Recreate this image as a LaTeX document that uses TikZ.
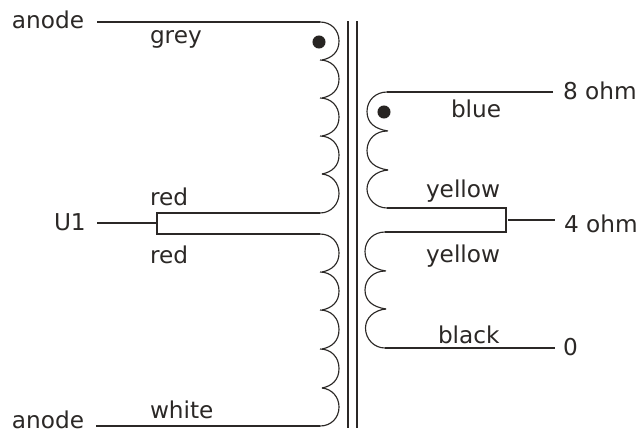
\documentclass[tikz,border=0pt]{standalone}
\usepackage{fontspec}
\setmainfont{DejaVu Sans}
\definecolor{ink}{HTML}{2B2826}
\usetikzlibrary{calc}
\tikzset{
  wire/.style={draw=ink,line width=0.85pt,line cap=butt},
  lbl/.style={anchor=base west,inner sep=0pt,outer sep=0pt,text=ink,font=\fontsize{17.4pt}{19pt}\selectfont},
  phasedot/.style={circle,fill=ink!90!black,draw=none,minimum size=9.8pt,inner sep=0pt}
}
\newcommand{\bumpR}[3]{% x, y1, y2 : bulge to the right
  \draw[wire] (#1,#2) .. controls ($(#1,#2)+(11,0)$) and ($(#1+19,#2+8)$) .. ($(#1+19,#2/2+#3/2)$)
     .. controls ($(#1+19,#3-8)$) and ($(#1+12,#3-2)$) .. ($(#1+2,#3)$);}
\newcommand{\bumpL}[3]{% x, y1, y2 : bulge to the left
  \draw[wire] (#1,#2) .. controls ($(#1-11,#2)$) and ($(#1-20,#2+8)$) .. ($(#1-20,#2/2+#3/2)$)
     .. controls ($(#1-20,#3-8)$) and ($(#1-12,#3-2)$) .. ($(#1+1,#3)$);}
\begin{document}
\begin{tikzpicture}[x=0.75pt,y=-0.75pt]
\useasboundingbox (0,0) rectangle (638,432);
\fill[white] (0,0) rectangle (638,432);
% core
\coordinate (c1t) at (348,21); \coordinate (c1b) at (348,428);
\coordinate (c2t) at (357,21); \coordinate (c2b) at (357,428);
\draw[wire] (c1t) -- (c1b);
\draw[wire] (c2t) -- (c2b);
% labels
\node[lbl] (an1) at (12,28) {anode};
\node[lbl] (grey) at (150,43) {grey};
\node[lbl] (red1) at (150,205) {red};
\node[lbl] (u1) at (54,230) {U1};
\node[lbl] (red2) at (150,263) {red};
\node[lbl] (white) at (150,418) {white};
\node[lbl] (an2) at (12,428) {anode};
\node[lbl] (eight) at (563,99) {8 ohm};
\node[lbl] (blue) at (451,117) {blue};
\node[lbl] (yel1) at (426,197) {yellow};
\node[lbl] (four) at (564,232) {4 ohm};
\node[lbl] (yel2) at (426,262) {yellow};
\node[lbl] (black) at (438,343) {black};
\node[lbl] (zero) at (563,355) {0};
% primary
\coordinate (pa) at (97,22); \coordinate (pb) at (320,22);
\coordinate (pc) at (320,213); \coordinate (pd) at (157,213);
\coordinate (pe) at (157,234); \coordinate (pf) at (320,234);
\coordinate (pg) at (320,426); \coordinate (ph) at (96,426);
\coordinate (pu) at (97,223); \coordinate (pv) at (157,223);
\draw[wire] (pa) -- (pb);
\draw[wire] (pc) -- (pd) -- (pe) -- (pf);
\draw[wire] (pg) -- (ph);
\draw[wire] (pu) -- (pv);
\bumpR{320}{22}{60}\bumpR{320}{60}{98}\bumpR{320}{98}{136}\bumpR{320}{136}{174}
\draw[wire] (322,174) .. controls (332,175) and (339,183) .. (339,193.5) .. controls (339,204) and (331,213) .. (pc);
\bumpR{320}{234}{272}\bumpR{320}{272}{310}\bumpR{320}{310}{349}\bumpR{320}{349}{388}
\draw[wire] (322,388) .. controls (332,389) and (339,397) .. (339,407) .. controls (339,418) and (331,426) .. (pg);
\node[phasedot] (dot1) at (319,42) {};
% secondary
\coordinate (sa) at (553,92); \coordinate (sb) at (387,92);
\coordinate (sc) at (387,208); \coordinate (sd) at (506,208);
\coordinate (se) at (506,232); \coordinate (sf) at (385,232);
\coordinate (sg) at (385,348); \coordinate (sh) at (555,348);
\coordinate (s4a) at (508,220); \coordinate (s4b) at (555,220);
\draw[wire] (sa) -- (sb);
\draw[wire] (sc) -- (sd) -- (se) -- (sf);
\draw[wire] (sg) -- (sh);
\draw[wire] (s4a) -- (s4b);
\bumpL{387}{92}{131}\bumpL{387}{131}{170}
\draw[wire] (388,170) .. controls (376,171) and (367,179) .. (367,189) .. controls (367,199) and (376,208) .. (sc);
\bumpL{385}{232}{271}\bumpL{385}{271}{309}
\draw[wire] (386,309) .. controls (374,310) and (365.5,318) .. (365.5,328) .. controls (365.5,339) and (374,348) .. (sg);
\node[phasedot] (dot2) at (384,112) {};
\end{tikzpicture}
\end{document}
